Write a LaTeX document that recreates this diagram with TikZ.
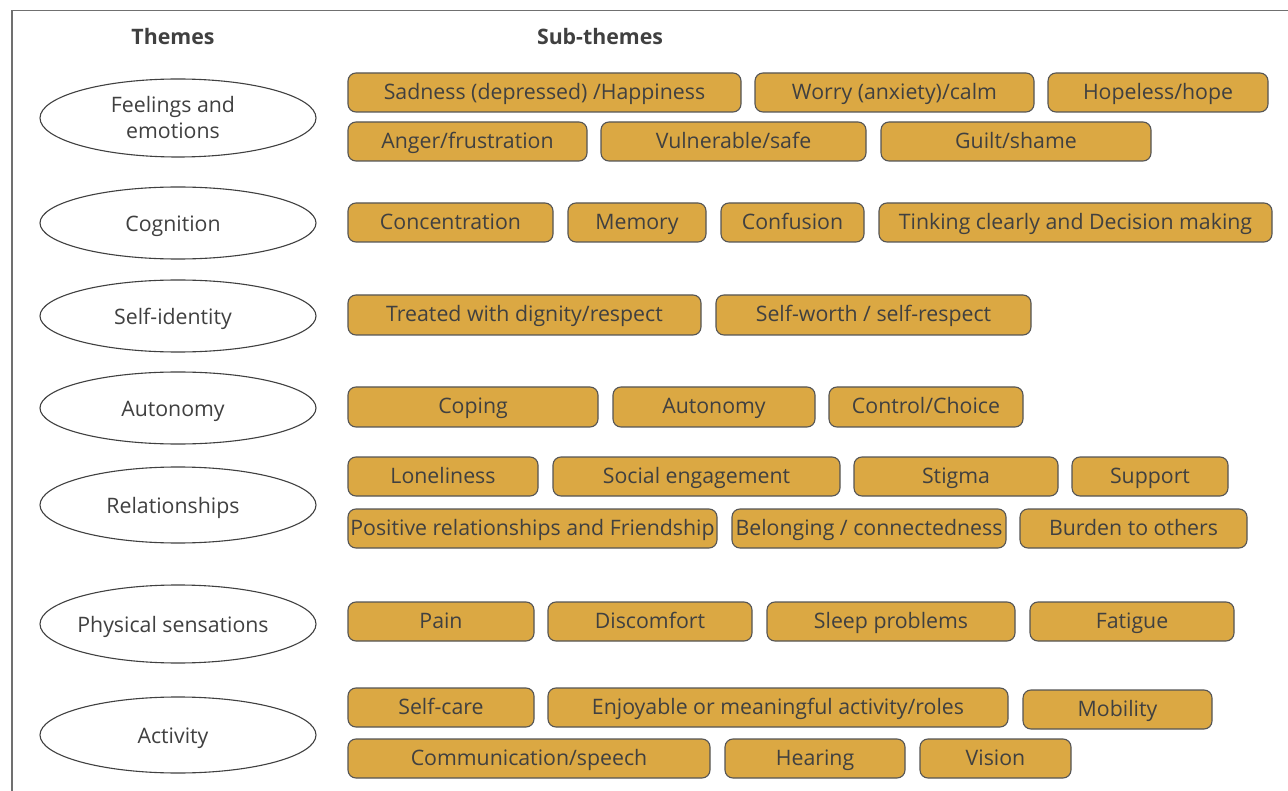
\documentclass[tikz,border=0pt]{standalone}
\usepackage{fontspec}
\setmainfont{Open Sans}
\usetikzlibrary{shapes.geometric}
\definecolor{boxfill}{HTML}{DBA843}
\definecolor{boxline}{HTML}{555555}
\definecolor{txt}{HTML}{404040}
\definecolor{framec}{HTML}{707070}
\newcommand{\bodyfont}{\fontsize{21.3}{26}\selectfont}
\tikzset{
  subbox/.style={draw=boxline, fill=boxfill, rounded corners=8pt, line width=1.1pt,
    inner sep=0pt, text=txt, font=\bodyfont, text height=15.2pt, text depth=2pt},
  theme/.style={draw=txt, ellipse, line width=1.1pt, minimum width=276pt, minimum height=76pt,
    inner sep=0pt, text=txt, align=center, font=\bodyfont},
  oneline/.style={text height=17pt, text depth=0pt},
  head/.style={text=txt, font=\bodyfont\bfseries}
}
\newcommand{\SubT}[6]{%
  \node[subbox, minimum width={#4pt-#2pt}, minimum height={#5pt-#3pt}]
    (#1) at ({(#2+#4)/2},{-(#3+#5)/2}) {#6};}
\newcommand{\sh}{\hspace*{-10pt}}
\begin{document}
\begin{tikzpicture}[x=1pt,y=1pt]
\useasboundingbox (0,0) rectangle (1288,-791);
\fill[white] (0,0) rectangle (1288,-791);
\draw[framec, line width=1.2pt] (12,-791) -- (12,-10.5) -- (1288,-10.5);

\node[head] (hthemes) at (173,-37) {Themes};
\node[head] (hsub) at (600,-37) {Sub-themes};

\node[theme, minimum height=78pt] (e1) at (178,-118) {\sh Feelings and\\\sh emotions};
\node[theme, oneline, minimum height=72pt] (e2) at (178,-223) {\sh Cognition};
\node[theme, oneline, minimum height=72pt] (e3) at (178,-316) {\sh Self-identity};
\node[theme, oneline, minimum height=72pt] (e4) at (178,-408) {\sh Autonomy};
\node[theme, oneline] (e5) at (178,-505) {\sh Relationships};
\node[theme, oneline, minimum height=78pt] (e6) at (178,-624) {\sh Physical sensations};
\node[theme, oneline] (e7) at (178,-735) {\sh Activity};

% Feelings
\SubT{b11}{348}{73}{741}{112}{Sadness (depressed) /Happiness}
\SubT{b12}{755}{73}{1034}{112}{Worry (anxiety)/calm}
\SubT{b13}{1048}{73}{1268}{112}{Hopeless/hope}
\SubT{b14}{348}{122}{587}{161}{Anger/frustration}
\SubT{b15}{601}{122}{866}{161}{Vulnerable/safe}
\SubT{b16}{881}{122}{1151}{161}{Guilt/shame}
% Cognition
\SubT{b21}{348}{203}{553}{242}{Concentration}
\SubT{b22}{568}{203}{706}{242}{Memory}
\SubT{b23}{721}{203}{864}{242}{Confusion}
\SubT{b24}{879}{203}{1272}{242}{Tinking clearly and Decision making}
% Self-identity
\SubT{b31}{348}{295}{701}{335}{Treated with dignity/respect}
\SubT{b32}{716}{295}{1031}{335}{Self-worth / self-respect}
% Autonomy
\SubT{b41}{348}{387}{598}{427}{Coping}
\SubT{b42}{613}{387}{815}{427}{Autonomy}
\SubT{b43}{829}{387}{1023}{427}{Control/Choice}
% Relationships
\SubT{b51}{348}{457}{538}{496}{Loneliness}
\SubT{b52}{553}{457}{840}{496}{Social engagement}
\SubT{b53}{854}{457}{1058}{496}{Stigma}
\SubT{b54}{1072}{457}{1228}{496}{Support}
\SubT{b55}{348}{509}{717}{548}{Positive relationships and Friendship}
\SubT{b56}{732}{509}{1006}{548}{Belonging / connectedness}
\SubT{b57}{1020}{509}{1247}{548}{Burden to others}
% Physical
\SubT{b61}{348}{602}{534}{641}{Pain}
\SubT{b62}{548}{602}{752}{641}{Discomfort}
\SubT{b63}{767}{602}{1015}{641}{Sleep problems}
\SubT{b64}{1030}{602}{1234}{641}{Fatigue}
% Activity
\SubT{b71}{348}{688}{534}{727}{Self-care}
\SubT{b72}{548}{688}{1008}{727}{Enjoyable or meaningful activity/roles}
\SubT{b73}{1023}{690}{1212}{729}{Mobility}
\SubT{b74}{348}{739}{710}{778}{Communication/speech}
\SubT{b75}{725}{739}{905}{778}{Hearing}
\SubT{b76}{920}{739}{1071}{778}{Vision}
\end{tikzpicture}
\end{document}
